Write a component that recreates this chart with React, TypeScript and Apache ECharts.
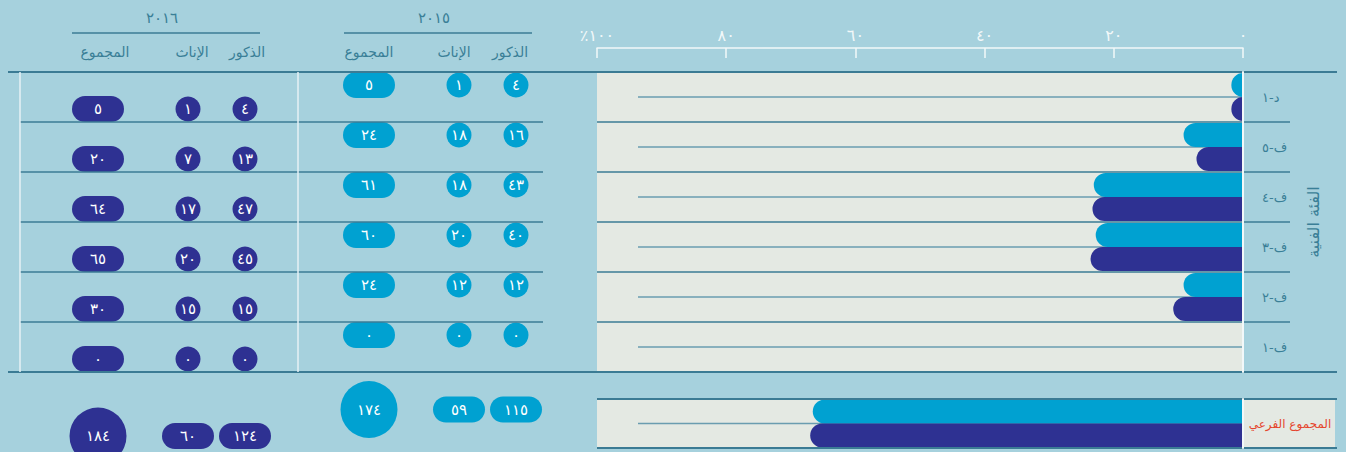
import React, { useEffect, useRef } from 'react';
import * as echarts from 'echarts';

// ---------- data ----------
const categories = ['د-١', 'ف-٥', 'ف-٤', 'ف-٣', 'ف-٢', 'ف-١'];
const subtotalLabel = 'المجموع الفرعي';
const axisTitle = 'الفئة الفنية';
const tickLabels = ['٠', '٢٠', '٤٠', '٦٠', '٨٠', '٪١٠٠'];
const years = ['٢٠١٥', '٢٠١٦'];
const colHeaders = ['الذكور', 'الإناث', 'المجموع'];

// bar lengths (percent)
const pct2015 = [1.8, 9.2, 23.1, 22.8, 9.2, 0];
const pct2016 = [1.8, 7.2, 23.3, 23.6, 10.8, 0];
const subtotalPct2015 = [66.6];
const subtotalPct2016 = [67.0];

// table values
const male2015 = [4, 16, 43, 40, 12, 0];
const female2015 = [1, 18, 18, 20, 12, 0];
const total2015 = [5, 24, 61, 60, 24, 0];
const male2016 = [4, 13, 47, 45, 15, 0];
const female2016 = [1, 7, 17, 20, 15, 0];
const total2016 = [5, 20, 64, 65, 30, 0];
// [male, female, total]
const subtotal2015 = [115, 59, 174];
const subtotal2016 = [124, 60, 184];

// ---------- style / layout ----------
const CYAN = '#00a1d1';
const INDIGO = '#2e3192';
const BG = '#a6d1dd';
const PLOT = '#e4e9e3';
const LINE = '#3b7b94';
const MID = '#6a9db0';
const TEAL = '#3a7f97';
const WHITE = '#f2f8f9';
const FONT = 'DejaVu Sans';

const ROW_TOP = 72;
const ROW_H = 50;
const NROWS = categories.length;
const PLOT_LEFT = 597;
const PLOT_RIGHT = 1243;
const SUB_TOP = 399;
const SUB_H = 49;
const TABLE_UNITS = 7.6;
const PILL = 'path://M13,0L39,0A13,13,0,0,1,39,26L13,26A13,13,0,0,1,13,0Z';
const ELLIPSE = 'path://M0,50A50,50,0,1,1,100,50A50,50,0,1,1,0,50Z';

const AR = '٠١٢٣٤٥٦٧٨٩';
const toAr = (n: number) => String(n).replace(/\d/g, (d) => AR[Number(d)]);

function buildOption() {
  const grids: any[] = [
    { left: PLOT_LEFT, top: ROW_TOP, width: PLOT_RIGHT - PLOT_LEFT, height: ROW_H * NROWS, show: true, backgroundColor: PLOT, borderWidth: 0 },
    { left: PLOT_LEFT, top: SUB_TOP, width: PLOT_RIGHT - PLOT_LEFT, height: SUB_H, show: true, backgroundColor: PLOT, borderWidth: 0 },
  ];
  const xAxes: any[] = [
    {
      gridIndex: 0, type: 'value', inverse: true, min: 0, max: 100, interval: 20, position: 'top', offset: 24,
      axisLine: { show: true, lineStyle: { color: WHITE, width: 1.5 } },
      axisTick: { show: true, inside: true, length: 10, lineStyle: { color: WHITE, width: 1.5 } },
      axisLabel: { color: WHITE, fontSize: 16, fontFamily: FONT, margin: 5, formatter: (v: number) => tickLabels[Math.round(v / 20)] },
      splitLine: { show: false },
    },
    { gridIndex: 1, type: 'value', inverse: true, min: 0, max: 100, show: false, splitLine: { show: false } },
  ];
  const yAxes: any[] = [
    {
      gridIndex: 0, type: 'category', data: categories, inverse: true, position: 'right', z: 10,
      axisLine: { show: true, lineStyle: { color: WHITE, width: 2 } },
      axisTick: { show: false },
      axisLabel: { color: TEAL, fontSize: 13, fontFamily: FONT, margin: 19, padding: [0, 0, 8, 0] },
      splitLine: { show: false },
      name: axisTitle, nameLocation: 'middle', nameRotate: 90, nameGap: 62,
      nameTextStyle: { color: TEAL, fontSize: 16, fontFamily: FONT },
    },
    {
      gridIndex: 1, type: 'category', data: [subtotalLabel], inverse: true, position: 'right', z: 10,
      axisLine: { show: true, lineStyle: { color: WHITE, width: 2 } },
      axisTick: { show: false },
      axisLabel: { color: '#e5462e', fontSize: 12, fontFamily: FONT, margin: 47, align: 'center', padding: [0, 0, 4, 0] },
    },
  ];
  const series: any[] = [
    { type: 'bar', name: '2015', xAxisIndex: 0, yAxisIndex: 0, data: pct2015, barWidth: 24, barGap: '0%', z: 5,
      itemStyle: { color: CYAN, borderRadius: [12, 0, 0, 12] } },
    { type: 'bar', name: '2016', xAxisIndex: 0, yAxisIndex: 0, data: pct2016, barWidth: 24, barGap: '0%', z: 5,
      itemStyle: { color: INDIGO, borderRadius: [12, 0, 0, 12] } },
    { type: 'bar', name: '2015s', xAxisIndex: 1, yAxisIndex: 1, data: subtotalPct2015, barWidth: 24, barGap: '0%', z: 5,
      itemStyle: { color: CYAN, borderRadius: [12, 0, 0, 12] } },
    { type: 'bar', name: '2016s', xAxisIndex: 1, yAxisIndex: 1, data: subtotalPct2016, barWidth: 24, barGap: '0%', z: 5,
      itemStyle: { color: INDIGO, borderRadius: [12, 0, 0, 12] } },
  ];

  // table columns (hdx: header horizontal shift)
  const tableCols = [
    { header: colHeaders[0], x: 516, hdx: -6, rows: male2015, sub: subtotal2015[0], color: CYAN, pill: false, off: 0.26, subY: 6.75 },
    { header: colHeaders[1], x: 459, hdx: -5, rows: female2015, sub: subtotal2015[1], color: CYAN, pill: false, off: 0.26, subY: 6.75 },
    { header: colHeaders[2], x: 369, hdx: 0, rows: total2015, sub: subtotal2015[2], color: CYAN, pill: true, off: 0.26, subY: 6.75 },
    { header: colHeaders[0], x: 245, hdx: 2, rows: male2016, sub: subtotal2016[0], color: INDIGO, pill: false, off: 0.74, subY: 7.28 },
    { header: colHeaders[1], x: 188, hdx: 4, rows: female2016, sub: subtotal2016[1], color: INDIGO, pill: false, off: 0.74, subY: 7.28 },
    { header: colHeaders[2], x: 98, hdx: 7, rows: total2016, sub: subtotal2016[2], color: INDIGO, pill: true, off: 0.74, subY: 7.28 },
  ];
  tableCols.forEach((c) => {
    const gi = grids.length;
    grids.push({ left: c.x - 30, top: ROW_TOP, width: 60, height: ROW_H * TABLE_UNITS, show: false });
    const xi = xAxes.length;
    const pad = c.hdx >= 0 ? [0, 0, 0, 2 * c.hdx] : [0, -2 * c.hdx, 0, 0];
    xAxes.push({
      gridIndex: gi, type: 'category', data: [c.header], position: 'top',
      axisLine: { show: false }, axisTick: { show: false },
      axisLabel: { color: TEAL, fontSize: 14, fontFamily: FONT, margin: 13, padding: pad },
    });
    const yi = yAxes.length;
    yAxes.push({ gridIndex: gi, type: 'value', min: 0, max: TABLE_UNITS, inverse: true, show: false, splitLine: { show: false } });
    const data: any[] = c.rows.map((v, i) => ({
      value: [0, i + c.off, v],
      symbol: c.pill ? PILL : 'circle',
      symbolSize: c.pill ? [52, 26] : 25,
    }));
    data.push({
      value: [0, c.subY, c.sub],
      symbol: c.pill ? ELLIPSE : PILL,
      symbolSize: c.pill ? [57, 57] : [52, 26],
    });
    series.push({
      type: 'scatter', xAxisIndex: xi, yAxisIndex: yi, data, z: 5, clip: false,
      itemStyle: { color: c.color, opacity: 1 },
      label: { show: true, position: 'inside', color: '#ffffff', fontSize: 15, fontFamily: FONT, formatter: (p: any) => toAr(p.value[2]) },
      emphasis: { disabled: true },
    });
  });

  // decorative lines
  const hLine = (x1: number, x2: number, y: number, color: string, w: number, z: number) => ({
    type: 'line', silent: true, z, shape: { x1, y1: y, x2, y2: y }, style: { stroke: color, lineWidth: w },
  });
  const vLine = (x: number, y1: number, y2: number, color: string, w: number, z: number) => ({
    type: 'line', silent: true, z, shape: { x1: x, y1, x2: x, y2 }, style: { stroke: color, lineWidth: w },
  });
  const elements: any[] = [];
  const tableBottom = ROW_TOP + ROW_H * NROWS;
  elements.push({ type: 'rect', silent: true, z: 1, shape: { x: PLOT_RIGHT + 1, y: SUB_TOP, width: 91, height: SUB_H }, style: { fill: PLOT } });
  elements.push(hLine(8, 1337, ROW_TOP, LINE, 2, 6));
  elements.push(hLine(8, 1337, tableBottom, LINE, 2, 6));
  for (let i = 1; i < NROWS; i++) {
    const y = ROW_TOP + i * ROW_H;
    elements.push(hLine(20, 543, y, LINE, 1.5, 6));
    elements.push(hLine(PLOT_LEFT, 1290, y, LINE, 1.5, 6));
  }
  for (let i = 0; i < NROWS; i++) {
    elements.push(hLine(638, PLOT_RIGHT, ROW_TOP + i * ROW_H + ROW_H / 2, MID, 1.5, 1));
  }
  elements.push(hLine(638, PLOT_RIGHT, SUB_TOP + SUB_H / 2, MID, 1.5, 1));
  elements.push(hLine(PLOT_LEFT, 1337, SUB_TOP, LINE, 2, 6));
  elements.push(hLine(PLOT_LEFT, 1337, SUB_TOP + SUB_H, LINE, 2, 6));
  elements.push(vLine(20, ROW_TOP, tableBottom, '#e6f1f4', 1.5, 6));
  elements.push(vLine(298, ROW_TOP, tableBottom, '#e6f1f4', 1.5, 6));
  // year headers
  const yearHeads = [{ t: years[0], x1: 344, x2: 532 }, { t: years[1], x1: 72, x2: 260 }];
  yearHeads.forEach((h) => {
    elements.push(hLine(h.x1, h.x2, 33, LINE, 1.5, 6));
    elements.push({
      type: 'text', silent: true, z: 6, x: (h.x1 + h.x2) / 2 - 4, y: 18,
      style: { text: h.t, fill: TEAL, fontSize: 15, fontFamily: FONT, align: 'center', verticalAlign: 'middle' },
    });
  });

  return {
    animation: false,
    backgroundColor: BG,
    textStyle: { fontFamily: FONT },
    grid: grids,
    xAxis: xAxes,
    yAxis: yAxes,
    series,
    graphic: { elements },
  };
}

export default function App() {
  const ref = useRef<HTMLDivElement>(null);
  useEffect(() => {
    const chart = echarts.init(ref.current!, null, { renderer: 'svg' });
    chart.setOption(buildOption() as any);
    return () => chart.dispose();
  }, []);
  return <div ref={ref} style={{ position: 'absolute', left: 0, top: 0, width: 1346, height: 452 }} />;
}
